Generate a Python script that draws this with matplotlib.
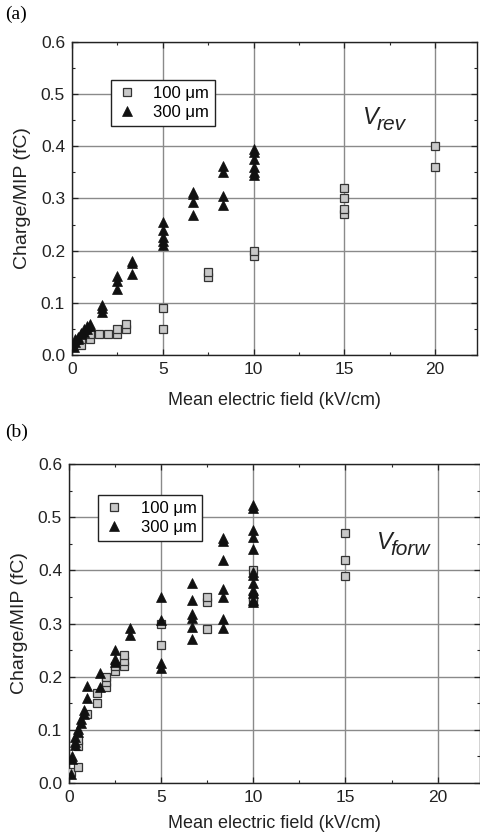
import matplotlib
matplotlib.use("Agg")
import matplotlib.pyplot as plt
from matplotlib.ticker import MultipleLocator, FormatStrFormatter

plt.rcParams['font.family'] = ['Liberation Sans', 'DejaVu Sans']

### data, panel (a) : reverse bias ######################################################
rev_100_x = [0.17, 0.33, 0.5, 0.5, 1.0, 1.0, 1.5, 2.0, 2.5, 2.5, 3.0, 3.0,
             5.0, 5.0, 7.5, 7.5, 10, 10, 15, 15, 15, 15, 20, 20]
rev_100_y = [0.02, 0.025, 0.02, 0.03, 0.03, 0.04, 0.04, 0.04, 0.04, 0.05, 0.05, 0.06,
             0.05, 0.09, 0.15, 0.16, 0.19, 0.20, 0.27, 0.28, 0.30, 0.32, 0.36, 0.40]

rev_300_x = [0.1, 0.17, 0.17, 0.33, 0.33, 0.5, 0.5, 0.67, 0.67, 0.83, 0.83, 1.0, 1.0,
             1.67, 1.67, 1.67, 2.5, 2.5, 2.5, 3.33, 3.33, 3.33,
             5, 5, 5, 5, 5, 6.67, 6.67, 6.67, 6.67, 8.33, 8.33, 8.33, 8.33,
             10, 10, 10, 10, 10, 10]
rev_300_y = [0.015, 0.025, 0.03, 0.03, 0.035, 0.04, 0.043, 0.045, 0.05, 0.05, 0.055, 0.055, 0.06,
             0.083, 0.09, 0.096, 0.126, 0.141, 0.151, 0.155, 0.176, 0.18,
             0.211, 0.219, 0.226, 0.240, 0.255, 0.268, 0.293, 0.309, 0.313, 0.288, 0.305, 0.35, 0.362,
             0.345, 0.35, 0.361, 0.376, 0.39, 0.395]

### data, panel (b) : forward bias ######################################################
forw_100_x = [0.1, 0.5, 0.5, 0.5, 1.0, 1.5, 1.5, 2.0, 2.0, 2.0, 2.5, 2.5,
              3.0, 3.0, 3.0, 5.0, 5.0, 7.5, 7.5, 7.5, 10, 10, 10, 15, 15, 15]
forw_100_y = [0.02, 0.03, 0.07, 0.08, 0.13, 0.15, 0.17, 0.18, 0.19, 0.20, 0.21, 0.22,
              0.22, 0.23, 0.24, 0.26, 0.30, 0.29, 0.34, 0.35, 0.34, 0.35, 0.40, 0.39, 0.42, 0.47]

forw_300_x = [0.1, 0.17, 0.17, 0.33, 0.33, 0.33, 0.5, 0.5, 0.67, 0.67, 0.83, 0.83,
              1.0, 1.0, 1.67, 1.67, 2.5, 2.5, 2.5, 3.33, 3.33,
              5, 5, 5, 5, 6.67, 6.67, 6.67, 6.67, 6.67, 6.67,
              8.33, 8.33, 8.33, 8.33, 8.33, 8.33, 8.33,
              10, 10, 10, 10, 10, 10, 10, 10, 10, 10, 10, 10]
forw_300_y = [0.017, 0.046, 0.05, 0.071, 0.077, 0.087, 0.096, 0.102, 0.112, 0.121, 0.130, 0.137,
              0.160, 0.182, 0.181, 0.207, 0.228, 0.233, 0.25, 0.278, 0.291,
              0.216, 0.225, 0.307, 0.349, 0.271, 0.294, 0.31, 0.317, 0.345, 0.377,
              0.291, 0.308, 0.35, 0.364, 0.419, 0.456, 0.46,
              0.341, 0.344, 0.357, 0.363, 0.377, 0.391, 0.397, 0.441, 0.462, 0.476, 0.517, 0.523]

legend_labels = ["100 \u03bcm", "300 \u03bcm"]


### Function: panel ######################################################################
def panel(ax, x100, y100, x300, y300, sub, xmax, vpos, legpos, xpad):
    ax.set_xlim(0, xmax)
    ax.set_ylim(0, 0.6)
    ax.grid(True, which='major', color='#8a8a8a', linewidth=1.0)
    ax.set_axisbelow(True)

    ax.plot(x100, y100, linestyle='none', marker='s', markersize=5.8,
            markerfacecolor='#c8c8c8', markeredgecolor='#333333', markeredgewidth=0.9,
            label=legend_labels[0], zorder=3)
    ax.plot(x300, y300, linestyle='none', marker='^', markersize=7.2,
            markerfacecolor='#111111', markeredgecolor='#111111', markeredgewidth=0.5,
            label=legend_labels[1], zorder=4)

    ax.xaxis.set_major_locator(MultipleLocator(5))
    ax.xaxis.set_minor_locator(MultipleLocator(2.5))
    ax.yaxis.set_major_locator(MultipleLocator(0.1))
    ax.yaxis.set_minor_locator(MultipleLocator(0.05))
    ax.yaxis.set_major_formatter(FormatStrFormatter('%.1f'))
    ax.tick_params(which='both', direction='in', top=True, right=True,
                   labelsize=12.5, colors='#222222')
    ax.tick_params(which='major', length=4.5, width=0.9, pad=5)
    ax.tick_params(which='minor', length=2.5, width=0.8)
    for s in ax.spines.values():
        s.set_linewidth(1.0)
        s.set_color('#222222')

    ax.set_xlabel("Mean electric field (kV/cm)", fontsize=13, color='#222222', labelpad=xpad)
    ax.set_ylabel("Charge/MIP (fC)", fontsize=14, color='#222222', labelpad=7)

    ax.legend(loc='upper left', bbox_to_anchor=legpos, borderaxespad=0, fontsize=12,
              frameon=True, fancybox=False, edgecolor='#222222', framealpha=1,
              handlelength=1.2, handletextpad=1.0, borderpad=0.35, labelspacing=0.25)

    ax.text(vpos[0], vpos[1], "V", fontsize=17, style='italic', color='#222222',
            ha='left', va='center')
    ax.annotate(sub, xy=vpos, xytext=(10, -5), textcoords='offset points',
                fontsize=15, style='italic', color='#222222', ha='left', va='center')

    return ax


fig = plt.figure(figsize=(4.81, 8.34), dpi=100)

axa = fig.add_axes([72 / 481, 1 - 355 / 834, 405 / 481, 313 / 834])
panel(axa, rev_100_x, rev_100_y, rev_300_x, rev_300_y, "rev", 22.3,
      (16.0, 0.456), (0.096, 0.879), 11)

axb = fig.add_axes([69 / 481, 1 - 783 / 834, 411 / 481, 319 / 834])
panel(axb, forw_100_x, forw_100_y, forw_300_x, forw_300_y, "forw", 22.3,
      (16.7, 0.453), (0.071, 0.903), 7)

fig.text(5 / 481, 1 - 14 / 834, "(a)", fontsize=14, family='Liberation Serif',
         ha='left', va='center')
fig.text(5 / 481, 1 - 432 / 834, "(b)", fontsize=14, family='Liberation Serif',
         ha='left', va='center')

fig.savefig("out.png", dpi=100)
